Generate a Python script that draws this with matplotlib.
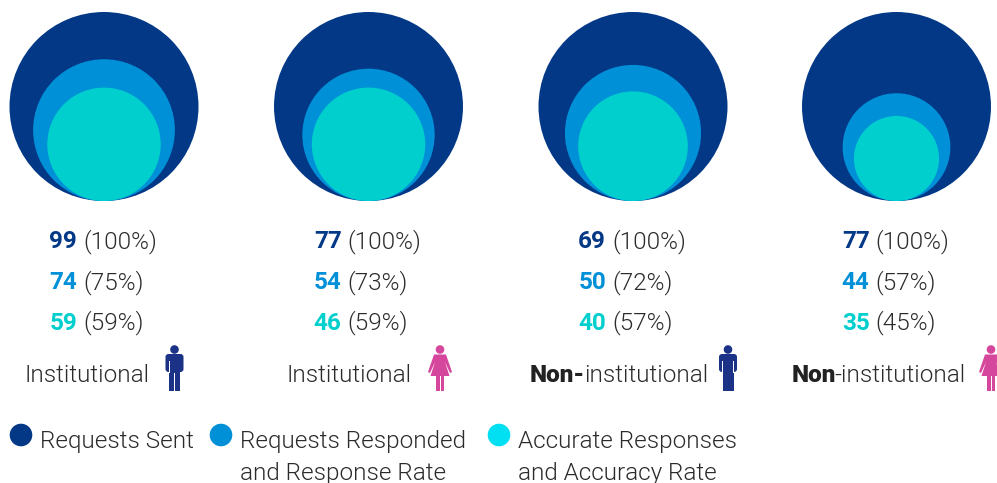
import matplotlib.pyplot as plt
from matplotlib.patches import Circle, Polygon, Rectangle, FancyBboxPatch

plt.rcParams['font.family'] = ['Roboto', 'DejaVu Sans']

groups = ['Institutional', 'Institutional', 'institutional', 'institutional']
sent = [99, 77, 69, 77]
responded = [74, 54, 50, 44]
accurate = [59, 46, 40, 35]
sent_pct = [100, 100, 100, 100]
responded_pct = [75, 73, 72, 57]
accurate_pct = [59, 59, 57, 45]
# circle sizes as drawn, second one is a bit smaller than its label says
responded_size = [75, 70, 72, 57]
accurate_size = [60, 60, 58, 45]
legend_labels = ['Requests Sent', 'Requests Responded\nand Response Rate', 'Accurate Responses\nand Accuracy Rate']

navy = '#033887'
blue = '#0090d7'
teal = '#00cfce'
legend_teal = '#00e0f2'
man = '#1b3287'
woman = '#d5479c'
grey = '#2b2b2b'

centers = [104, 368.5, 633, 896.5]
bottom = 201
R = 94.5
light = 300
fs = 17.5

fig = plt.figure(figsize=(9.97, 4.83), dpi=100)
ax = fig.add_axes([0, 0, 1, 1])
ax.set_xlim(0, 997)
ax.set_ylim(483, 0)
ax.axis('off')


def person(x, col, female):
    # x is the middle of the icon
    ax.add_patch(Circle((x, 349.5), 4.3, color=col, lw=0))
    if female:
        ax.add_patch(Polygon([(x - 6, 354.5), (x + 6, 354.5), (x + 12, 372), (x + 10, 373), (x + 5, 362),
                              (x + 9.5, 376), (x - 9.5, 376), (x - 5, 362), (x - 10, 373), (x - 12, 372)],
                             color=col, lw=0))
        ax.add_patch(Rectangle((x - 4.3, 376), 3.8, 14.5, color=col, lw=0))
        ax.add_patch(Rectangle((x + 0.5, 376), 3.8, 14.5, color=col, lw=0))
    else:
        ax.add_patch(FancyBboxPatch((x - 9, 354), 18, 18, boxstyle='round,pad=0,rounding_size=3', color=col, lw=0))
        ax.add_patch(Rectangle((x - 5.5, 368), 11, 22.5, color=col, lw=0))
        ax.add_patch(Rectangle((x - 0.4, 373), 0.8, 18, color='white', lw=0))
        ax.add_patch(Rectangle((x - 5.8, 361), 0.8, 12, color='white', lw=0))
        ax.add_patch(Rectangle((x + 5, 361), 0.8, 12, color='white', lw=0))


for i, cx in enumerate(centers):
    for size, col in [(sent_pct[i], navy), (responded_size[i], blue), (accurate_size[i], teal)]:
        r = R * size / 100
        ax.add_patch(Circle((cx, bottom - r), r, color=col, lw=0))

    rows = [(sent[i], sent_pct[i], navy, 242), (responded[i], responded_pct[i], blue, 282.5),
            (accurate[i], accurate_pct[i], teal, 323)]
    for n, pct, col, y in rows:
        ax.text(cx - 27, y, str(n), color=col, fontsize=fs, fontweight='bold', ha='right', va='center')
        ax.text(cx - 21, y, '(%d%%)' % pct, color=grey, fontsize=fs, fontweight=light, ha='left', va='center')

ax.text(24, 381.5, groups[0], color=grey, fontsize=fs, fontweight=light, ha='left', va='baseline')
ax.text(286, 381.5, groups[1], color=grey, fontsize=fs, fontweight=light, ha='left', va='baseline')
ax.text(530, 381.5, 'Non-', color='#222222', fontsize=fs, fontweight='black', ha='left', va='baseline')
ax.text(584, 381.5, groups[2], color=grey, fontsize=fs, fontweight=light, ha='left', va='baseline')
ax.text(792, 381.5, 'Non', color='#222222', fontsize=fs, fontweight='black', ha='left', va='baseline')
ax.text(834.5, 381.5, '-' + groups[3], color=grey, fontsize=fs, fontweight=light, ha='left', va='baseline')

person(174.5, man, False)
person(440, woman, True)
person(728, man, False)
person(991, woman, True)

for x, tx, col, label in zip([21, 221, 499], [39.5, 239.5, 517.5], [navy, blue, legend_teal], legend_labels):
    ax.add_patch(Circle((x, 435), 11.3, color=col, lw=0))
    for j, line in enumerate(label.split('\n')):
        ax.text(tx, 448 + 32 * j, line, color=grey, fontsize=fs, fontweight=light, ha='left', va='baseline')

fig.savefig('out.png', dpi=100)
